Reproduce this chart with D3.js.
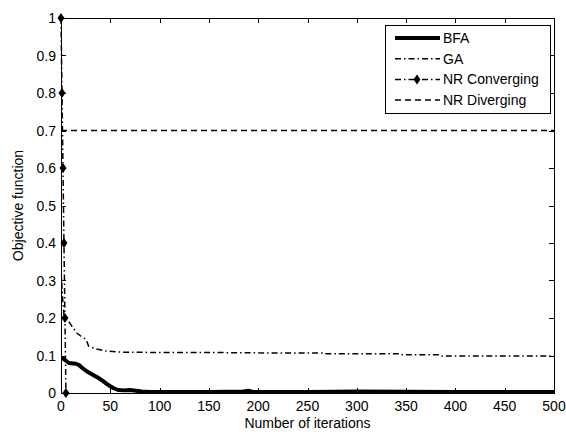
<!DOCTYPE html>
<html>
<head>
<meta charset="utf-8">
<script src="https://cdn.jsdelivr.net/npm/d3@7"></script>
<style>
  html, body { margin: 0; padding: 0; background: #fff; }
  svg { display: block; }
  text { font-family: "Liberation Sans", Arial, sans-serif; fill: #000; }
</style>
</head>
<body>
<svg id="chart" width="566" height="432"></svg>
<script>
// ---- data ----
const xTicks = [0, 50, 100, 150, 200, 250, 300, 350, 400, 450, 500];
const yTicks = [0, 0.1, 0.2, 0.3, 0.4, 0.5, 0.6, 0.7, 0.8, 0.9, 1];

const bfaIter = [0, 3, 8, 15, 18, 22, 26, 30, 34, 38, 42, 46, 50, 54, 58, 64, 70, 76, 82, 90, 100, 150, 185, 190, 195, 250, 300, 400, 500];
const bfaVal  = [0.095, 0.09, 0.08, 0.078, 0.075, 0.066, 0.058, 0.052, 0.046, 0.04, 0.033, 0.025, 0.018, 0.012, 0.008, 0.007, 0.008, 0.006, 0.004, 0.003, 0.003, 0.003, 0.004, 0.006, 0.003, 0.003, 0.004, 0.003, 0.003];

const gaIter = [0, 1, 2, 3, 5, 8, 12, 16, 20, 24, 26, 28, 35, 45, 60, 100, 150, 200, 266, 267, 345, 346, 385, 386, 500];
const gaVal  = [0.33, 0.28, 0.24, 0.21, 0.2, 0.19, 0.175, 0.16, 0.152, 0.145, 0.14, 0.125, 0.118, 0.112, 0.109, 0.108, 0.108, 0.107, 0.107, 0.105, 0.105, 0.102, 0.102, 0.099, 0.099];

const nrcIter = [0, 1, 2, 3, 4, 5];
const nrcVal  = [1, 0.8, 0.6, 0.4, 0.2, 0];

const nrdIter = [0, 500];
const nrdVal  = [0.7, 0.7];

const legendNames = ["BFA", "GA", "NR Converging", "NR Diverging"];

// ---- layout ----
const svg = d3.select("#chart");
const L = 61, R = 554, T = 18, B = 393;
const x = d3.scaleLinear().domain([0, 500]).range([L, R]);
const y = d3.scaleLinear().domain([0, 1]).range([B, T]);

const dashDot = "6,3,1.5,3";
const dashed = "6,4";
const FS = 14;

svg.append("clipPath").attr("id", "clip")
  .append("rect").attr("x", L).attr("y", T - 6).attr("width", R - L).attr("height", B - T + 12);

const line = d3.line().x(d => x(d[0])).y(d => y(d[1]));
const zip = (a, b) => a.map((v, i) => [v, b[i]]);

const g = svg.append("g").attr("clip-path", "url(#clip)");

// NR Diverging
g.append("path").datum(zip(nrdIter, nrdVal)).attr("d", line)
  .attr("fill", "none").attr("stroke", "#000").attr("stroke-width", 1.5).attr("stroke-dasharray", dashed);

// GA
g.append("path").datum(zip(gaIter, gaVal)).attr("d", line)
  .attr("fill", "none").attr("stroke", "#000").attr("stroke-width", 1.5).attr("stroke-dasharray", dashDot);

// BFA
g.append("path").datum(zip(bfaIter, bfaVal)).attr("d", line)
  .attr("fill", "none").attr("stroke", "#000").attr("stroke-width", 4).attr("stroke-linejoin", "round");

// NR Converging
svg.append("path").datum(zip(nrcIter, nrcVal)).attr("d", line)
  .attr("fill", "none").attr("stroke", "#000").attr("stroke-width", 1.5).attr("stroke-dasharray", dashDot);

const diamond = "M0,-5 L3.5,0 L0,5 L-3.5,0 Z";
svg.selectAll(".nrm").data(zip(nrcIter, nrcVal)).enter().append("path")
  .attr("d", diamond).attr("transform", d => `translate(${x(d[0])},${y(d[1])})`)
  .attr("fill", "#000");

// ---- axes box ----
const axG = svg.append("g");
axG.append("rect").attr("x", L + 0.5).attr("y", T + 0.5).attr("width", R - L).attr("height", B - T)
  .attr("fill", "none").attr("stroke", "#000").attr("stroke-width", 1);

const tk = 5;
xTicks.forEach(v => {
  const xp = Math.round(x(v)) + 0.5;
  axG.append("line").attr("x1", xp).attr("x2", xp).attr("y1", B).attr("y2", B - tk).attr("stroke", "#000");
  axG.append("line").attr("x1", xp).attr("x2", xp).attr("y1", T).attr("y2", T + tk).attr("stroke", "#000");
  axG.append("text").attr("x", x(v)).attr("y", B + 18).attr("text-anchor", "middle")
    .attr("font-size", FS).text(v);
});
yTicks.forEach(v => {
  const yp = Math.round(y(v)) + 0.5;
  axG.append("line").attr("x1", L).attr("x2", L + tk).attr("y1", yp).attr("y2", yp).attr("stroke", "#000");
  axG.append("line").attr("x1", R).attr("x2", R - tk).attr("y1", yp).attr("y2", yp).attr("stroke", "#000");
  axG.append("text").attr("x", L - 5).attr("y", y(v) + 5).attr("text-anchor", "end")
    .attr("font-size", FS).text(v);
});

svg.append("text").attr("x", (L + R) / 2).attr("y", 428).attr("text-anchor", "middle")
  .attr("font-size", FS).text("Number of iterations");
svg.append("text").attr("transform", `translate(23,${(T + B) / 2}) rotate(-90)`)
  .attr("text-anchor", "middle").attr("font-size", FS).text("Objective function");

// ---- legend ----
const lg = svg.append("g");
lg.append("rect").attr("x", 385.5).attr("y", 25.5).attr("width", 165).attr("height", 88)
  .attr("fill", "#fff").attr("stroke", "#000");
const styles = [
  { w: 4, dash: null, marker: false },
  { w: 1.5, dash: dashDot, marker: false },
  { w: 1.5, dash: dashDot, marker: true },
  { w: 1.5, dash: dashed, marker: false }
];
legendNames.forEach((name, i) => {
  const yy = 38 + i * 20.7;
  const s = styles[i];
  const ln = lg.append("line").attr("x1", 395).attr("x2", 440).attr("y1", yy).attr("y2", yy)
    .attr("stroke", "#000").attr("stroke-width", s.w);
  if (s.dash) ln.attr("stroke-dasharray", s.dash);
  if (s.marker) lg.append("path").attr("d", diamond).attr("transform", `translate(417,${yy})`).attr("fill", "#000");
  lg.append("text").attr("x", 443).attr("y", yy + 5).attr("font-size", FS).text(name);
});
</script>
</body>
</html>
